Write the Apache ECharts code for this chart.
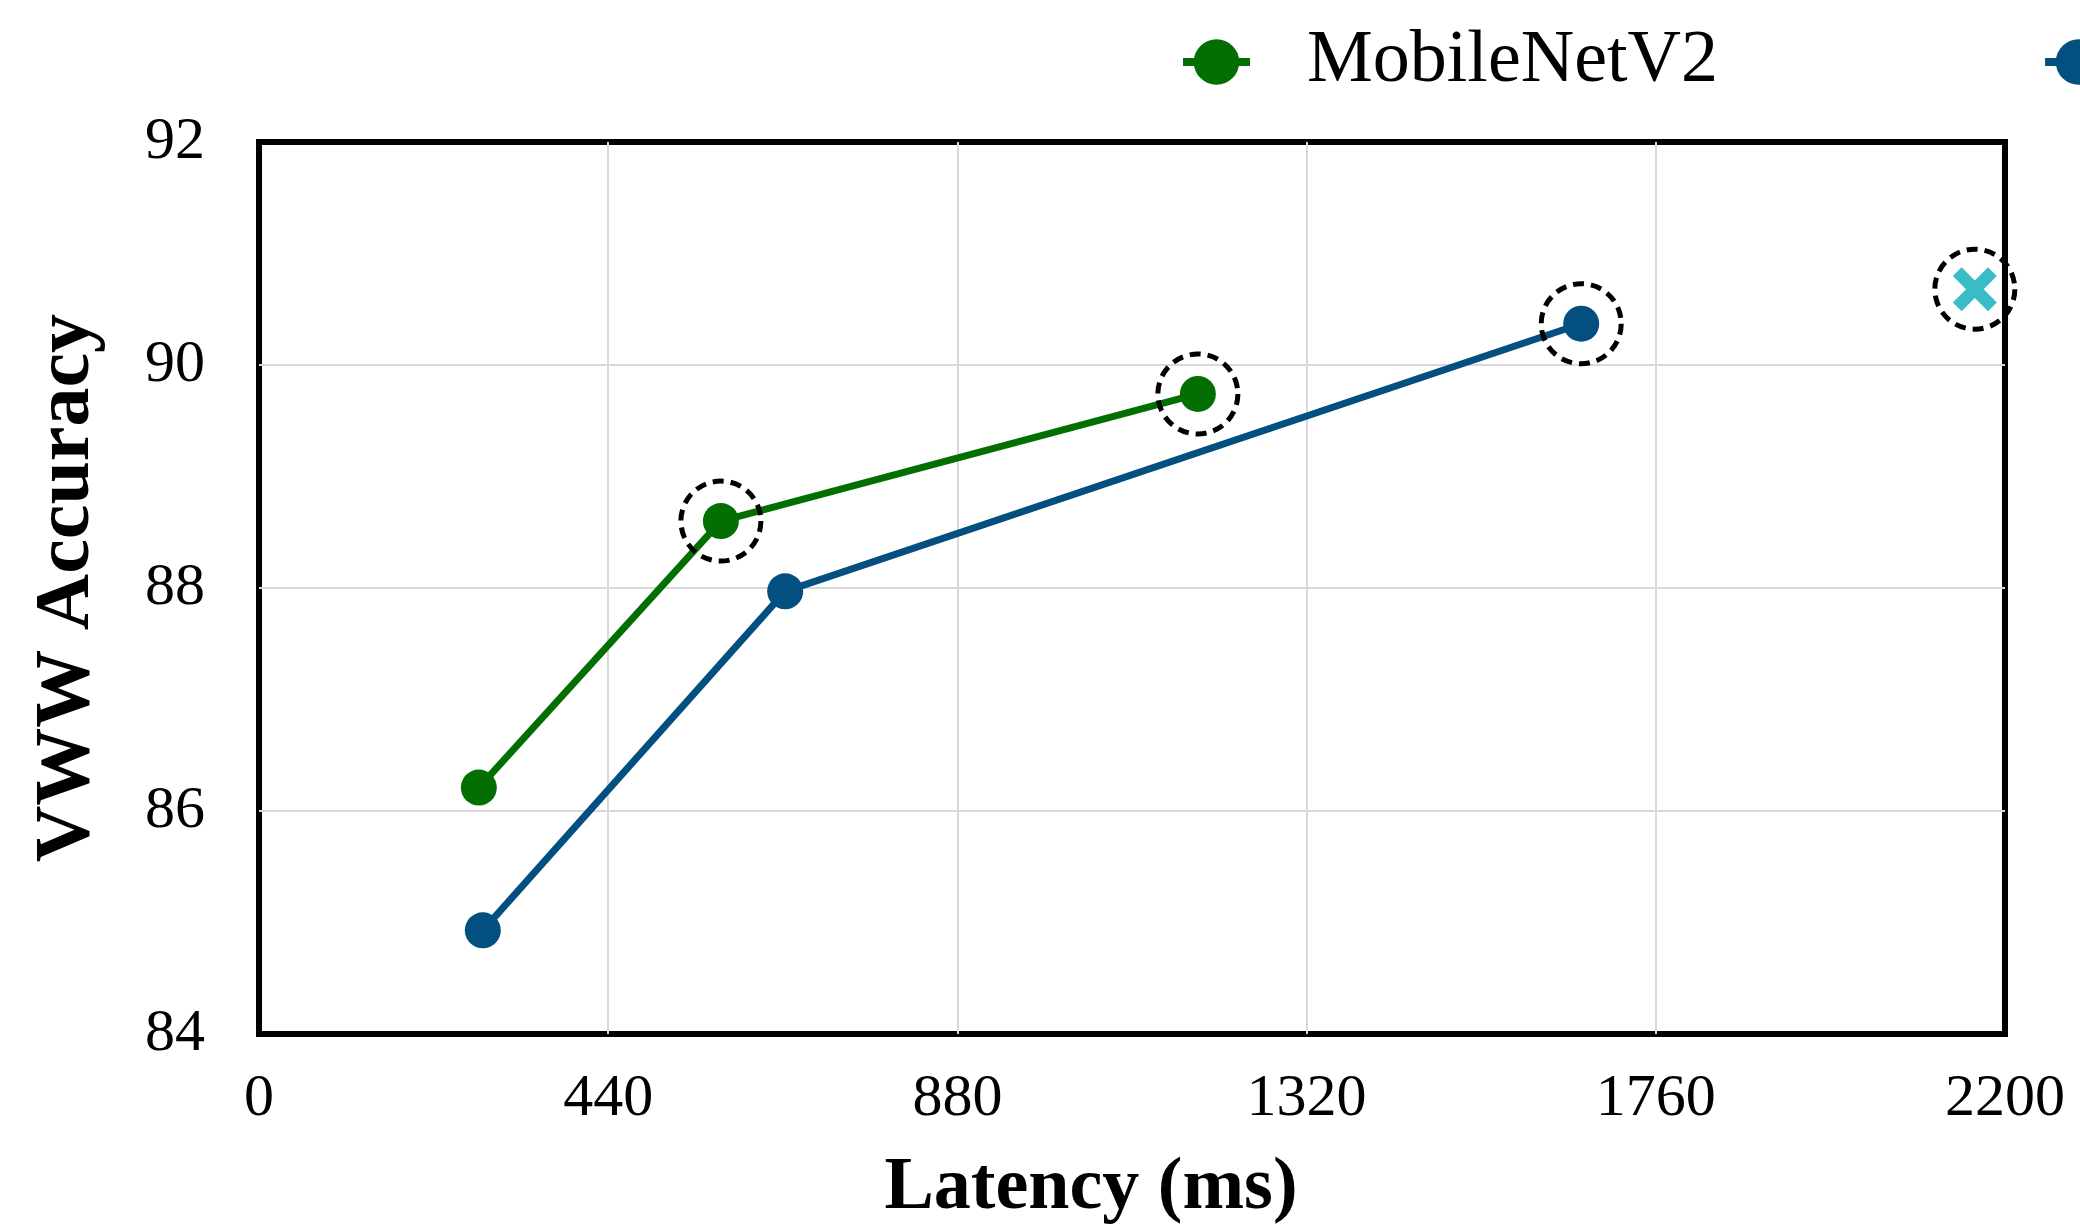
<!DOCTYPE html>
<html>
<head>
<meta charset="utf-8">
<script src="https://cdn.jsdelivr.net/npm/echarts@6/dist/echarts.min.js"></script>
<style>
  html, body { margin: 0; padding: 0; background: #fff; }
  #chart { width: 2080px; height: 1231px; }
</style>
</head>
<body>
<div id="chart"></div>
<script>
// Latency (ms) vs. VWW accuracy for each model family
const mobilenetLatency = [277, 582, 1183];
const mobilenetAccuracy = [86.21, 88.60, 89.74];
const mcunetLatency = [282, 663, 1666];
const mcunetAccuracy = [84.93, 87.97, 90.37];
const oursLatency = [2162];
const oursAccuracy = [90.68];

// Points that sit on the accuracy/latency frontier (circled)
const mobilenetFrontier = [1, 2];
const mcunetFrontier = [2];
const oursFrontier = [0];

const xTicks = [0, 440, 880, 1320, 1760, 2200];
const yTicks = [84, 86, 88, 90, 92];

const seriesNames = ['MobileNetV2', 'MCUNet', 'Ours'];

const GREEN = '#036f03';
const BLUE = '#034f80';
const CYAN = '#08abb8';
const FONT = 'Liberation Serif';

const zip = (xs, ys) => xs.map((x, i) => [x, ys[i]]);
const mobilenetPts = zip(mobilenetLatency, mobilenetAccuracy);
const mcunetPts = zip(mcunetLatency, mcunetAccuracy);
const oursPts = zip(oursLatency, oursAccuracy);
const frontierPts = [
  ...mobilenetFrontier.map(i => mobilenetPts[i]),
  ...mcunetFrontier.map(i => mcunetPts[i]),
  ...oursFrontier.map(i => oursPts[i])
];

// thick "x" marker
const crossPath = 'path://M0,20L20,0L50,30L80,0L100,20L70,50L100,80L80,100L50,70L20,100L0,80L30,50Z';

const chart = echarts.init(document.getElementById('chart'), null, { renderer: 'canvas' });

const splitLine = {
  show: true,
  showMinLine: false,
  showMaxLine: false,
  lineStyle: { color: '#d9d9d9', width: 2 }
};

chart.setOption({
  animation: false,
  backgroundColor: '#fff',
  textStyle: { fontFamily: FONT },
  legend: {
    data: [seriesNames[0], seriesNames[1]],
    left: 1174,
    top: 20,
    width: 5000,
    itemWidth: 67,
    itemHeight: 57,
    itemGap: 323,
    lineStyle: { width: 8 },
    selectedMode: false,
    textStyle: {
      fontFamily: FONT,
      fontSize: 74,
      color: '#000',
      padding: [0, 0, 0, 52]
    }
  },
  grid: {
    left: 259,
    top: 142,
    right: 75,
    bottom: 196,
    show: true,
    borderColor: '#000',
    borderWidth: 6,
    backgroundColor: 'transparent'
  },
  xAxis: {
    type: 'value',
    min: xTicks[0],
    max: xTicks[xTicks.length - 1],
    interval: xTicks[1] - xTicks[0],
    name: 'Latency (ms)',
    nameLocation: 'middle',
    nameGap: 118,
    nameTextStyle: {
      fontFamily: FONT,
      fontSize: 74,
      fontWeight: 'bold',
      color: '#000',
      padding: [0, 82, 0, 0]
    },
    axisLine: { show: false },
    axisTick: { show: false },
    axisLabel: {
      fontFamily: FONT,
      fontSize: 60,
      color: '#000',
      margin: 35,
      formatter: v => String(v)
    },
    splitLine: splitLine
  },
  yAxis: {
    type: 'value',
    min: yTicks[0],
    max: yTicks[yTicks.length - 1],
    interval: yTicks[1] - yTicks[0],
    name: 'VWW Accuracy',
    nameLocation: 'middle',
    nameGap: 152,
    nameTextStyle: {
      fontFamily: FONT,
      fontSize: 78,
      fontWeight: 'bold',
      color: '#000'
    },
    axisLine: { show: false },
    axisTick: { show: false },
    axisLabel: {
      fontFamily: FONT,
      fontSize: 60,
      color: '#000',
      margin: 54,
      formatter: v => String(v)
    },
    splitLine: splitLine
  },
  series: [
    {
      name: seriesNames[0],
      type: 'line',
      data: mobilenetPts,
      symbol: 'circle',
      symbolSize: 36,
      color: GREEN,
      lineStyle: { color: GREEN, width: 7 },
      itemStyle: { color: GREEN },
      emphasis: { disabled: true },
      z: 3
    },
    {
      name: seriesNames[1],
      type: 'line',
      data: mcunetPts,
      symbol: 'circle',
      symbolSize: 36,
      color: BLUE,
      lineStyle: { color: BLUE, width: 7 },
      itemStyle: { color: BLUE },
      emphasis: { disabled: true },
      z: 3
    },
    {
      name: seriesNames[2],
      type: 'scatter',
      data: oursPts,
      symbol: crossPath,
      symbolSize: 44,
      itemStyle: { color: CYAN },
      emphasis: { disabled: true },
      clip: false,
      z: 3
    },
    {
      name: 'frontier',
      type: 'scatter',
      data: frontierPts,
      symbol: 'circle',
      symbolSize: 80,
      itemStyle: {
        color: 'rgba(0,0,0,0)',
        borderColor: '#000',
        borderWidth: 5,
        borderType: [11, 7],
        opacity: 1
      },
      emphasis: { disabled: true },
      silent: true,
      clip: false,
      z: 4
    }
  ]
});
</script>
</body>
</html>
